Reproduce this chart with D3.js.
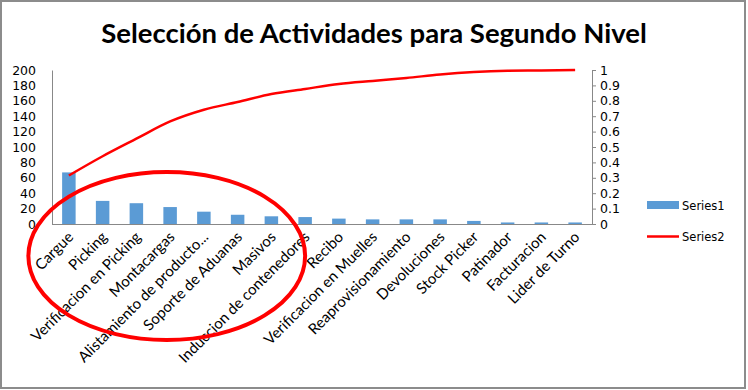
<!DOCTYPE html>
<html><head><meta charset="utf-8">
<script src="https://cdn.jsdelivr.net/npm/d3@7"></script>
<style>body{margin:0;background:#fff}svg{display:block}</style>
</head><body>
<script>
const categories = ["Cargue","Picking","Verificacion en Picking","Montacargas","Alistamiento de producto...","Soporte de Aduanas","Masivos","Induccion de contenedores","Recibo","Verificacion en Muelles","Reaprovisionamiento","Devoluciones","Stock Picker","Patinador","Facturacion","Lider de Turno"];
const series1 = [67, 30, 27, 22, 16, 12, 10, 9, 7, 6, 6, 6, 4, 2, 2, 2];
const series2 = [0.315, 0.44, 0.554, 0.666, 0.742, 0.792, 0.844, 0.877, 0.909, 0.929, 0.948, 0.971, 0.987, 0.995, 0.997, 1.0];
const leftTicks = [0,20,40,60,80,100,120,140,160,180,200];
const rightTicks = [0,0.1,0.2,0.3,0.4,0.5,0.6,0.7,0.8,0.9,1];
const seriesNames = ["Series1","Series2"];
const title = "Selección de Actividades para Segundo Nivel";

const W = 748, H = 390;
const svg = d3.select("body").append("svg").attr("width", W).attr("height", H);
svg.append("rect").attr("x",1).attr("y",1).attr("width",744).attr("height",387)
  .attr("fill","#fff").attr("stroke","#8c8c8c").attr("stroke-width",2);

svg.append("text").attr("x",374).attr("y",43).attr("text-anchor","middle")
  .attr("font-family","Lato, 'Open Sans', sans-serif").attr("font-weight","bold")
  .attr("font-size",27.5).attr("fill","#000").text(title);

const plot = {l:52, r:592, t:70, b:224};
const x = d3.scaleBand().domain(categories).range([plot.l, plot.r]).paddingInner(0.6).paddingOuter(0.3);
const xc = d3.scalePoint().domain(categories).range([plot.l, plot.r]).padding(0.5);
const yL = d3.scaleLinear().domain([0,200]).range([plot.b, plot.t]);
const yR = d3.scaleLinear().domain([0,1]).range([plot.b, plot.t]);

// bars
svg.append("g").selectAll("rect").data(series1).join("rect")
  .attr("x",(d,i)=>xc(categories[i]) - x.bandwidth()/2)
  .attr("width", x.bandwidth())
  .attr("y", d=>yL(d)).attr("height", d=>yL(0)-yL(d))
  .attr("fill","#5b9bd5");

// left axis
const gL = svg.append("g").attr("transform",`translate(${plot.l},0)`)
  .call(d3.axisLeft(yL).tickValues(leftTicks).tickSize(0).tickPadding(16));
gL.select(".domain").attr("stroke","#888");
gL.selectAll("text").attr("font-family","'DejaVu Sans', Verdana, sans-serif").attr("font-size",12.5).attr("fill","#000");

// right axis
const gR = svg.append("g").attr("transform",`translate(${plot.r},0)`)
  .call(d3.axisRight(yR).tickValues(rightTicks).tickSize(4).tickPadding(4).tickFormat(d=>String(+d.toFixed(1))));
gR.select(".domain").attr("stroke","#888");
gR.selectAll("line").attr("stroke","#888");
gR.selectAll("text").attr("font-family","'DejaVu Sans', Verdana, sans-serif").attr("font-size",12.5).attr("fill","#000");

// bottom axis
const gB = svg.append("g").attr("transform",`translate(0,${plot.b})`)
  .call(d3.axisBottom(xc).tickSize(0).tickPadding(0));
gB.select(".domain").attr("stroke","#888").attr("d",`M${plot.l},0.5H${plot.r}`);
gB.selectAll("text").attr("font-family","Lato, 'Open Sans', sans-serif").attr("font-size",15).attr("fill","#000")
  .attr("text-anchor","end").attr("dy",0).attr("y",0)
  .attr("transform","translate(5,14) rotate(-45)");

// line
svg.append("path").datum(series2)
  .attr("d", d3.line().x((d,i)=>xc(categories[i])).y(d=>yR(d)).curve(d3.curveMonotoneX))
  .attr("fill","none").attr("stroke","#ff0000").attr("stroke-width",2.5);

// annotation ellipse
const bw = xc.step();
svg.append("ellipse")
  .attr("cx", xc("Montacargas") - 0.1*bw).attr("cy", yL(0) + 32)
  .attr("rx", 4.1*bw).attr("ry", 84)
  .attr("fill","none").attr("stroke","#ff0000").attr("stroke-width",4);

// legend
const lg = svg.append("g");
lg.append("rect").attr("x",647).attr("y",201).attr("width",32).attr("height",8).attr("fill","#5b9bd5");
lg.append("line").attr("x1",647).attr("x2",679).attr("y1",236.5).attr("y2",236.5).attr("stroke","#ff0000").attr("stroke-width",2.5);
lg.selectAll("text").data(seriesNames).join("text")
  .attr("x",682).attr("y",(d,i)=>i===0?210:241)
  .attr("font-family","'DejaVu Sans', Verdana, sans-serif").attr("font-size",11.5).attr("fill","#000")
  .text(d=>d);
</script>
</body></html>
